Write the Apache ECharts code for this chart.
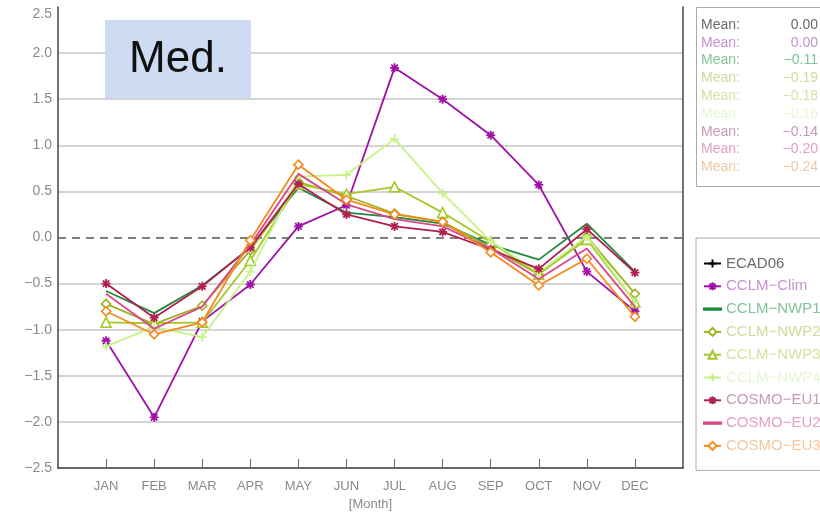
<!DOCTYPE html>
<html><head><meta charset="utf-8">
<script src="https://cdn.jsdelivr.net/npm/echarts@6/dist/echarts.min.js"></script>
<style>html,body{margin:0;padding:0;background:#fff}#c{width:820px;height:516px}</style>
</head><body><div id="c"></div>
<script>
const months = ['JAN','FEB','MAR','APR','MAY','JUN','JUL','AUG','SEP','OCT','NOV','DEC'];
const yTicks = [-2.5,-2.0,-1.5,-1.0,-0.5,0.0,0.5,1.0,1.5,2.0,2.5];
const seriesNames = ['ECAD06','CCLM\u2212Clim','CCLM\u2212NWP1','CCLM\u2212NWP2','CCLM\u2212NWP3','CCLM\u2212NWP4','COSMO\u2212EU1','COSMO\u2212EU2','COSMO\u2212EU3'];
const ecad06 = [];
const cclmClim = [-1.12, -1.95, -0.91, -0.51, 0.12, 0.35, 1.84, 1.50, 1.11, 0.57, -0.37, -0.80];
const cclmNwp1 = [-0.58, -0.82, -0.52, -0.11, 0.54, 0.27, 0.22, 0.15, -0.08, -0.24, 0.15, -0.37];
const cclmNwp2 = [-0.72, -0.94, -0.74, -0.14, 0.60, 0.45, 0.26, 0.17, -0.11, -0.40, 0.01, -0.61];
const cclmNwp3 = [-0.92, -0.93, -0.92, -0.25, 0.58, 0.47, 0.55, 0.27, -0.05, -0.40, -0.02, -0.70];
const cclmNwp4 = [-1.18, -0.97, -1.08, -0.37, 0.66, 0.68, 1.07, 0.48, -0.04, -0.38, 0.01, -0.70];
const cosmoEu1 = [-0.50, -0.87, -0.53, -0.11, 0.58, 0.25, 0.12, 0.06, -0.13, -0.34, 0.09, -0.38];
const cosmoEu2 = [-0.61, -0.99, -0.75, -0.08, 0.69, 0.36, 0.20, 0.12, -0.12, -0.45, -0.12, -0.75];
const cosmoEu3 = [-0.80, -1.05, -0.92, -0.03, 0.79, 0.41, 0.25, 0.17, -0.16, -0.52, -0.23, -0.86];
const meanValues = ['0.00','0.00','\u22120.11','\u22120.19','\u22120.18','\u22120.16','\u22120.14','\u22120.20','\u22120.24'];

const lineColors = ['#000000','#a012a6','#1f8a3c','#9db21e','#a6c82a','#c6f286','#b0204e','#d8488a','#f5891c'];
const textColors = ['#6a6a6a','#c890d2','#82c496','#d2da98','#d6e2a0','#e6f6d4','#c898b8','#e2a0c4','#f4c6a0'];
const PLUS = 'path://M0,-5L0,5M-5,0L5,0';
const STAR = 'path://M0,-5L0,5M-5,0L5,0M-3.6,-3.6L3.6,3.6M-3.6,3.6L3.6,-3.6';
const DASH = 'path://M0,0H20V1.6H0Z';
const seriesData = [ecad06, cclmClim, cclmNwp1, cclmNwp2, cclmNwp3, cclmNwp4, cosmoEu1, cosmoEu2, cosmoEu3];
const symbols = [PLUS, STAR, 'none', 'diamond', 'triangle', PLUS, STAR, 'none', 'diamond'];
const hollow = [false,false,false,true,true,false,false,false,true];

const font = 'Liberation Sans';
const series = seriesNames.map((name, i) => {
  const s = {
    name, type: 'line',
    data: seriesData[i].map((v, k) => [k + 1, v]),
    symbol: symbols[i],
    symbolSize: symbols[i] === 'triangle' ? 10 : 9,
    lineStyle: { color: lineColors[i], width: 1.8 },
    itemStyle: hollow[i]
      ? { color: '#ffffff', borderColor: lineColors[i], borderWidth: 1.6 }
      : { color: lineColors[i], borderColor: lineColors[i], borderWidth: 1.8 },
    emphasis: { disabled: true },
    animation: false,
    z: 3 + i
  };
  if (i === 0) {
    s.markLine = { silent: true, symbol: 'none', label: { show: false },
      lineStyle: { type: [8, 6], color: '#555555', width: 1.5 },
      data: [{ yAxis: 0 }] };
  }
  return s;
});

const splitColors = yTicks.map(t => (t === 0 || t === 2.5) ? 'rgba(0,0,0,0)' : '#c6c6c6');

const graphic = [
  { type: 'rect', left: 105, top: 20, shape: { width: 146, height: 78 }, style: { fill: '#cddcf3' }, z: 1 },
  { type: 'text', x: 178, y: 60, style: { text: 'Med.', font: '44px "Liberation Sans"', fill: '#111', align: 'center', verticalAlign: 'middle' }, z: 2 },
  { type: 'rect', shape: { x: 696.5, y: 7.5, width: 200, height: 179 }, style: { fill: 'none', stroke: '#aaaaaa', lineWidth: 1 } }
];
meanValues.forEach((v, i) => {
  const y = 25 + i * 17.8;
  graphic.push({ type: 'text', x: 701, y, style: { text: 'Mean:', font: '14px "Liberation Sans"', fill: textColors[i], verticalAlign: 'middle' } });
  graphic.push({ type: 'text', x: 818, y, style: { text: v, font: '14px "Liberation Sans"', fill: textColors[i], align: 'right', verticalAlign: 'middle' } });
});

const option = {
  animation: false,
  backgroundColor: '#ffffff',
  grid: { left: 58, right: 137, top: 7, bottom: 45 },
  xAxis: {
    type: 'value', min: 0, max: 13, interval: 1,
    name: '[Month]', nameLocation: 'middle', nameGap: 30,
    nameTextStyle: { color: '#8a8a8a', fontSize: 13, fontFamily: font },
    axisLine: { show: true, onZero: false, lineStyle: { color: '#444', width: 1.5 } },
    axisTick: { show: true, inside: true, length: 9, customValues: months.map((m, i) => i + 1), lineStyle: { color: '#666' } },
    axisLabel: { color: '#8a8a8a', fontSize: 13, fontFamily: font, margin: 12,
      customValues: months.map((m, i) => i + 1), formatter: v => months[Math.round(v) - 1] || '' },
    splitLine: { show: false }
  },
  yAxis: [{
    type: 'value', min: -2.5, max: 2.5, interval: 0.5,
    axisLine: { show: true, onZero: false, lineStyle: { color: '#444', width: 1.5 } },
    axisTick: { show: false },
    axisLabel: { color: '#8a8a8a', fontSize: 14, fontFamily: font, margin: 6,
      verticalAlignMaxLabel: 'top',
      formatter: v => (v < 0 ? '\u2212' : '') + Math.abs(v).toFixed(1) },
    splitLine: { show: true, lineStyle: { color: splitColors, width: 1.5 } }
  }, {
    type: 'value', min: -2.5, max: 2.5, interval: 0.5, position: 'right',
    axisLine: { show: true, onZero: false, lineStyle: { color: '#444', width: 1.5 } },
    axisTick: { show: false }, axisLabel: { show: false }, splitLine: { show: false }
  }],
  legend: {
    orient: 'vertical', left: 696, top: 238,
    padding: [18, 200, 17, 7],
    borderColor: '#aaaaaa', borderWidth: 1,
    itemWidth: 17, itemHeight: 10, itemGap: 7.8,
    selectedMode: false,
    textStyle: { fontSize: 15, lineHeight: 15, fontFamily: font },
    data: seriesNames.map((n, i) => {
      const d = { name: n, textStyle: { color: textColors[i] } };
      if (symbols[i] === 'none') { d.icon = DASH; d.itemStyle = { color: lineColors[i] }; }
      return d;
    })
  },
  graphic,
  series
};
const chart = echarts.init(document.getElementById('c'), null, { renderer: 'canvas' });
chart.setOption(option);
</script></body></html>
